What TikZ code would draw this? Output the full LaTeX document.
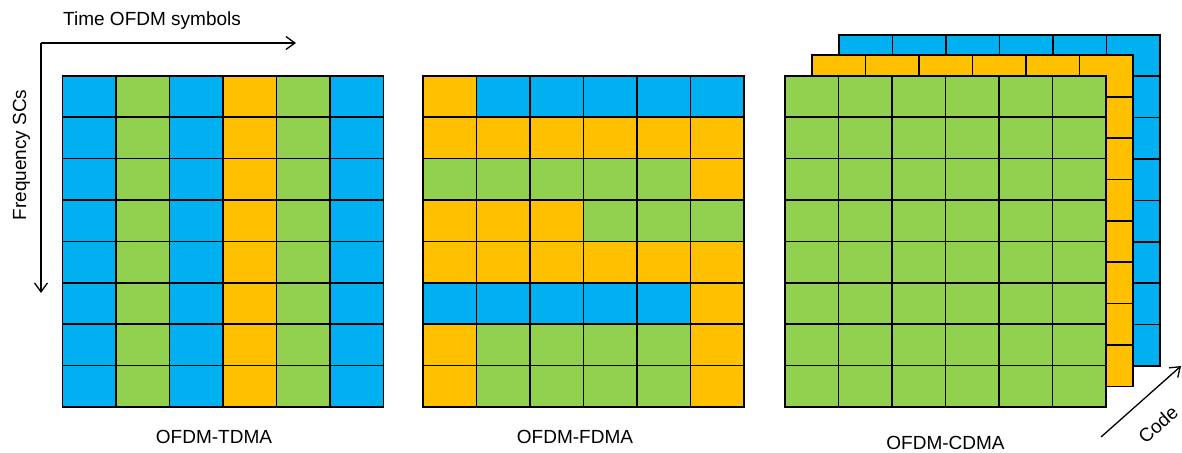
\documentclass[tikz,border=0pt]{standalone}
\usepackage{fontspec}
\setmainfont{Liberation Sans}
\usetikzlibrary{arrows.meta}
\definecolor{cB}{HTML}{00B0F0}
\definecolor{cG}{HTML}{92D050}
\definecolor{cO}{HTML}{FFC000}
\begin{document}
\begin{tikzpicture}[x=1pt,y=-1pt,
  cell/.style={draw=black, line width=1.7pt, minimum width=53.5pt, minimum height=41.375pt, inner sep=0pt, anchor=north west},
  lbl/.style={font=\fontsize{19}{22}\selectfont, inner sep=0pt},
  axis/.style={line width=1.3pt, -{Straight Barb[length=9pt,width=13pt,line width=1.3pt]}}]
\useasboundingbox (0,0) rectangle (1182,452);
% OFDM-TDMA
\foreach \r in {0,...,7}{
  \foreach \c [count=\k from 0] in {B,G,B,O,G,B}{
    \node[cell, fill=c\c] (t-\r-\k) at ({61.5+53.5*\k},{75+41.375*\r}) {};
  }
}
% OFDM-FDMA
\foreach \row [count=\r from 0] in {{O,B,B,B,B,B},{O,O,O,O,O,O},{G,G,G,G,G,O},{O,O,O,G,G,G},{O,O,O,O,O,O},{B,B,B,B,B,O},{O,G,G,G,G,O},{O,G,G,G,G,O}}{
  \foreach \c [count=\k from 0] in \row {
    \node[cell, fill=c\c] (f-\r-\k) at ({422+53.5*\k},{75+41.375*\r}) {};
  }
}
% OFDM-CDMA layers
\foreach \lay/\col/\xo/\yo in {b/B/838/34,o/O/811/54.5,g/G/784/75}{
  \foreach \r in {0,...,7}{
    \foreach \k in {0,...,5}{
      \node[cell, fill=c\col] (c\lay-\r-\k) at ({\xo+53.5*\k},{\yo+41.375*\r}) {};
    }
  }
}
% axes
\coordinate (o) at (41,43);
\coordinate (tend) at (296,43);
\coordinate (fend) at (41,293);
\draw[axis] (o) -- (tend);
\draw[axis] (o) -- (fend);
\node[lbl, anchor=base west] (tlabel) at (63,26) {Time OFDM symbols};
\node[lbl, anchor=base, rotate=90] (flabel) at (26,155) {Frequency SCs};
% code axis
\coordinate (c0) at (1101,437);
\coordinate (c1) at (1181,366);
\draw[axis] (c0) -- (c1);
\node[lbl, rotate=41.6] (clabel) at (1158,424) {Code};
% titles
\node[lbl, anchor=base] (ttdma) at (214,443) {OFDM-TDMA};
\node[lbl, anchor=base] (tfdma) at (575,443) {OFDM-FDMA};
\node[lbl, anchor=base] (tcdma) at (945.5,449) {OFDM-CDMA};
\end{tikzpicture}
\end{document}
